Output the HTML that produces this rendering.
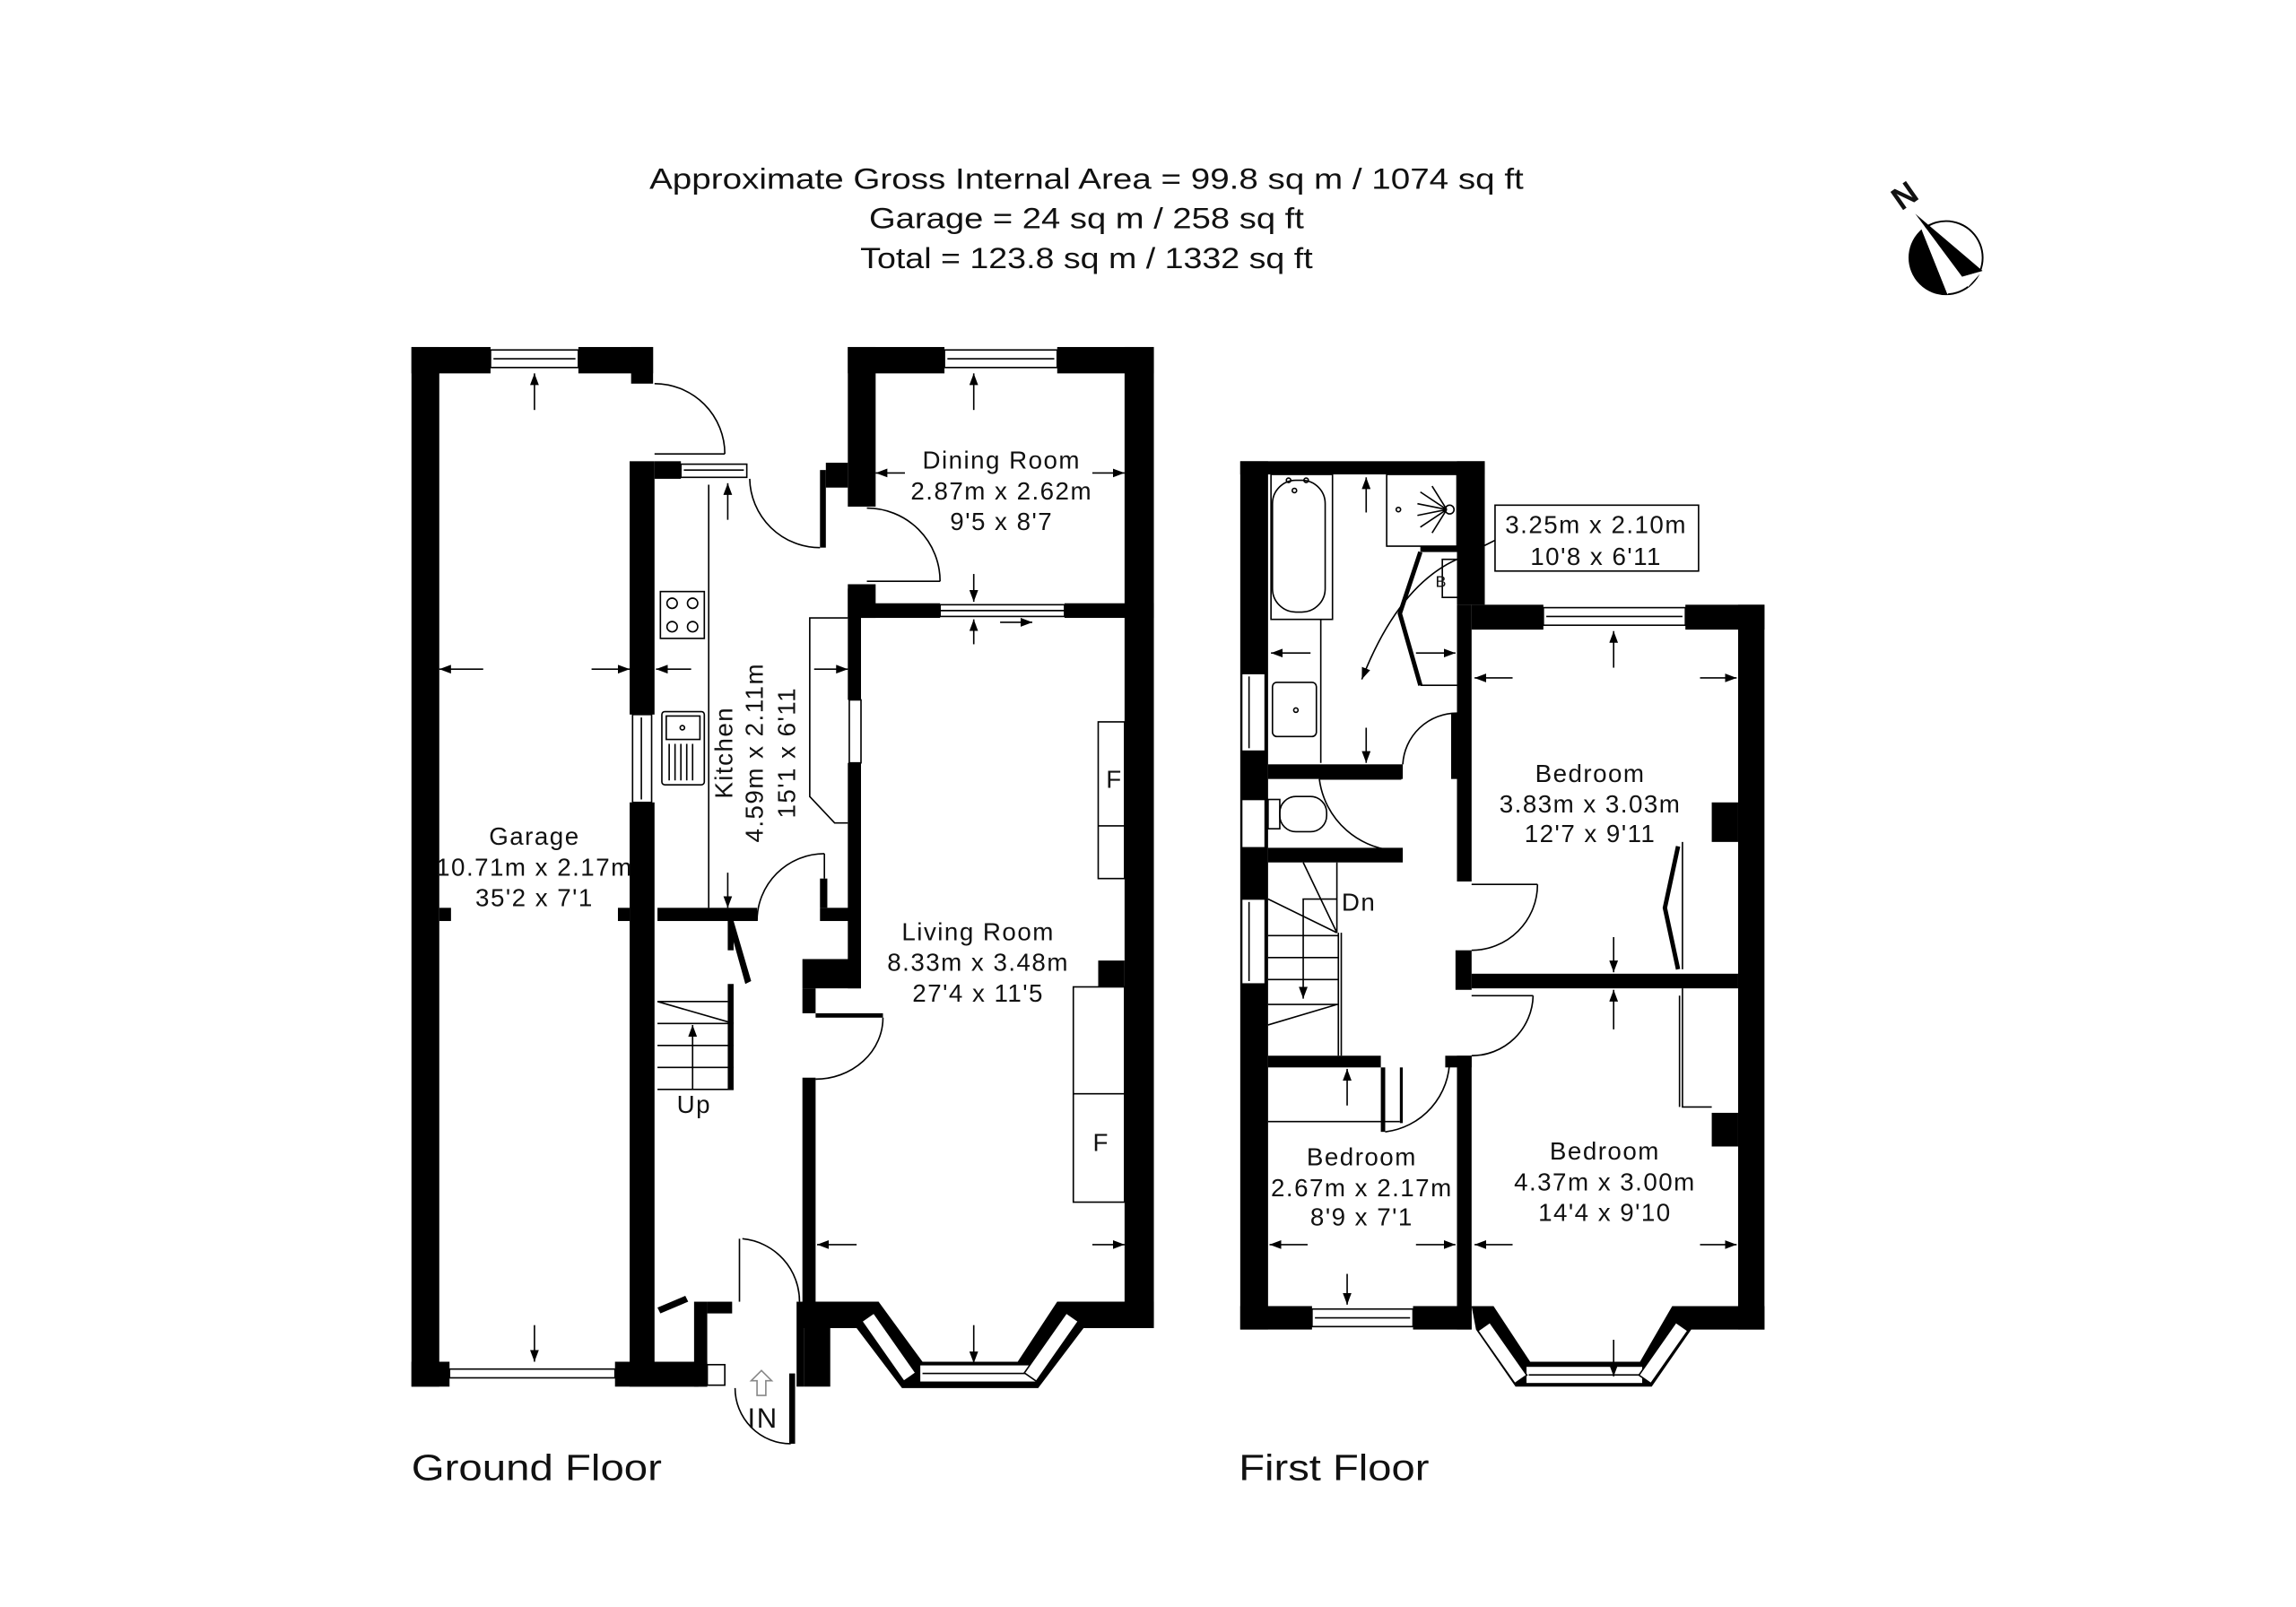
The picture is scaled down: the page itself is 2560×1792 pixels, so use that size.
<!DOCTYPE html>
<html><head><meta charset="utf-8"><style>
html,body{margin:0;padding:0;background:#fff}
svg{display:block}
text{font-family:"Liberation Sans",sans-serif;fill:#111}
</style></head><body>
<svg width="2560" height="1792" viewBox="0 0 1568 1097.5" preserveAspectRatio="none" xmlns="http://www.w3.org/2000/svg">
<defs>
<marker id="a" markerWidth="8" markerHeight="6" refX="8" refY="3" orient="auto" markerUnits="userSpaceOnUse">
<path d="M0,0 L8,3 L0,6 z" fill="#000"/></marker>
<clipPath id="cc"><circle cx="1329" cy="176" r="25"/></clipPath>
</defs>
<rect width="1568" height="1097.5" fill="#fff"/>

<!-- header -->
<g font-size="20" text-anchor="middle">
<text x="742" y="129" textLength="597" lengthAdjust="spacingAndGlyphs">Approximate Gross Internal Area = 99.8 sq m / 1074 sq ft</text>
<text x="742" y="156" textLength="297" lengthAdjust="spacingAndGlyphs">Garage = 24 sq m / 258 sq ft</text>
<text x="742" y="183" textLength="309" lengthAdjust="spacingAndGlyphs">Total = 123.8 sq m / 1332 sq ft</text>
</g>
<!-- compass -->
<circle cx="1329" cy="176" r="25" fill="#fff" stroke="#000" stroke-width="1.2"/>
<path d="M1308,146 L1330,201 L1290,215 L1290,150 z" fill="#000" clip-path="url(#cc)"/>
<path d="M1308,146 L1330,201 L1340,189 z" fill="#fff"/>
<path d="M1308,146 L1340,189 L1354,185 z" fill="#000"/>
<path d="M1340,189 L1354,185 L1344,196 z" fill="#fff"/>
<text x="1301" y="141" font-size="22" font-weight="bold" text-anchor="middle" transform="rotate(-35 1301 134)">N</text>

<g fill="#000">
<!-- ===== GROUND FLOOR ===== -->
<rect x="281" y="237" width="19" height="710"/>
<rect x="281" y="237" width="54" height="18"/>
<rect x="395" y="237" width="51" height="18"/>
<rect x="431" y="237" width="15" height="25"/>
<rect x="281" y="930" width="26" height="17"/>
<rect x="420" y="930" width="63" height="17"/>
<rect x="300" y="620" width="8" height="9"/>
<rect x="422" y="620" width="8" height="9"/>
<rect x="430" y="315" width="17" height="173"/>
<rect x="430" y="548" width="17" height="399"/>
<rect x="447" y="315" width="18" height="12"/>
<!-- dining -->
<rect x="579" y="237" width="66" height="18"/>
<rect x="722" y="237" width="66" height="18"/>
<rect x="579" y="237" width="19" height="109"/>
<rect x="564" y="316" width="15" height="17"/>
<rect x="560" y="321" width="4" height="53"/>
<rect x="768" y="237" width="20" height="668"/>
<rect x="750" y="656" width="18" height="18"/>
<rect x="579" y="399" width="19" height="23"/>
<rect x="588" y="412" width="54" height="10"/>
<rect x="727" y="412" width="61" height="10"/>
<!-- kitchen / living wall -->
<rect x="579" y="402" width="9" height="76"/>
<rect x="579" y="521" width="9" height="154"/>
<rect x="449" y="620" width="68" height="9"/>
<rect x="560" y="600" width="5" height="20"/>
<rect x="560" y="620" width="28" height="9"/>
<rect x="548" y="655" width="40" height="20"/>
<rect x="548" y="675" width="9" height="17"/>
<rect x="557" y="692" width="46" height="3"/>
<rect x="548" y="736" width="9" height="171"/>
<!-- stair wall -->
<rect x="497" y="629" width="4" height="20"/>
<path d="M497,629 L501,629 L513,670 L509,672 z"/>
<rect x="497" y="672" width="4" height="72"/>
<!-- bay -->
<path d="M548,889 L600,889 L630,930 L695,930 L722,889 L788,889 L788,907 L740,907 L709,948 L616,948 L585,907 L548,907 z"/>
<!-- porch -->
<rect x="474" y="889" width="9" height="58"/>
<rect x="447" y="930" width="30" height="17"/>
<rect x="483" y="889" width="17" height="8"/>
<rect x="544" y="889" width="5" height="58"/>
<rect x="549" y="907" width="18" height="40"/>
<rect x="539" y="938" width="4" height="48"/>
<path d="M449,893 L468,885 L470,889 L451,897 z"/>

<!-- ===== FIRST FLOOR ===== -->
<rect x="847" y="315" width="19" height="593"/>
<rect x="847" y="315" width="167" height="9"/>
<rect x="995" y="315" width="19" height="98"/>
<rect x="995" y="413" width="10" height="189"/>
<rect x="994" y="649" width="11" height="27"/>
<rect x="995" y="721" width="10" height="187"/>
<rect x="1005" y="413" width="49" height="17"/>
<rect x="1151" y="413" width="54" height="17"/>
<rect x="1187" y="413" width="18" height="495"/>
<rect x="1169" y="548" width="18" height="27"/>
<rect x="1169" y="760" width="18" height="23"/>
<rect x="1005" y="665" width="182" height="10"/>
<rect x="866" y="522" width="92" height="10"/>
<rect x="866" y="579" width="92" height="10"/>
<rect x="991" y="487" width="4" height="45"/>
<rect x="866" y="721" width="77" height="8"/>
<rect x="987" y="721" width="18" height="8"/>
<rect x="943" y="729" width="3" height="44"/>
<rect x="956" y="729" width="2" height="38"/>
<rect x="847" y="892" width="49" height="16"/>
<rect x="965" y="892" width="40" height="16"/>
<path d="M1005,892 L1020,892 L1045,930 L1120,930 L1142,892 L1205,892 L1205,908 L1155,908 L1128,947 L1035,947 L1008,908 z"/>
<rect x="970" y="373" width="25" height="4"/>
<path d="M970,377 L956,419 L970,468" fill="none" stroke="#000" stroke-width="3"/>
<path d="M1146,578 L1137,620 L1146,662" fill="none" stroke="#000" stroke-width="3"/>
</g>

<!-- windows -->
<g fill="#fff" stroke="#000" stroke-width="1">
<rect x="335" y="239" width="60" height="12"/><line x1="337" y1="245" x2="393" y2="245"/>
<rect x="645" y="239" width="77" height="12"/><line x1="647" y1="245" x2="720" y2="245"/>
<rect x="465" y="317" width="45" height="9"/><line x1="467" y1="321" x2="508" y2="321"/>
<rect x="432" y="488" width="13" height="60"/><line x1="438" y1="490" x2="438" y2="546"/>
<rect x="580" y="478" width="8" height="43"/>
<rect x="642" y="413" width="85" height="8"/><line x1="642" y1="417" x2="727" y2="417"/>
<rect x="628" y="932" width="80" height="12"/><line x1="630" y1="938" x2="706" y2="938"/>
<rect x="-25" y="-5" width="50" height="10" transform="translate(607,920) rotate(55)"/>
<rect x="-25" y="-5" width="50" height="10" transform="translate(718,920) rotate(-55)"/>
<rect x="307" y="935" width="113" height="6"/>
<rect x="483" y="932" width="12" height="14"/>
<rect x="848" y="460" width="16" height="53"/><line x1="853" y1="462" x2="853" y2="511"/>
<rect x="848" y="546" width="16" height="33"/>
<rect x="848" y="614" width="16" height="58"/><line x1="853" y1="616" x2="853" y2="670"/>
<rect x="896" y="894" width="69" height="12"/><line x1="898" y1="900" x2="963" y2="900"/>
<rect x="1054" y="415" width="97" height="12"/><line x1="1056" y1="421" x2="1149" y2="421"/>
<rect x="1042" y="933" width="80" height="12"/><line x1="1044" y1="939" x2="1120" y2="939"/>
<rect x="-22" y="-5" width="44" height="10" transform="translate(1026,924) rotate(55)"/>
<rect x="-22" y="-5" width="44" height="10" transform="translate(1136,924) rotate(-55)"/>
</g>

<!-- thin lines / fixtures / doors -->
<g fill="none" stroke="#000" stroke-width="1">
<path d="M447,262 A48,48 0 0 1 495,310"/><line x1="447" y1="310" x2="495" y2="310"/>
<path d="M512,327 A48,48 0 0 0 560,374"/>
<path d="M592,347 A50,50 0 0 1 642,397"/><line x1="592" y1="397" x2="642" y2="397"/>
<path d="M517,629 A46,46 0 0 1 563,583"/><line x1="563" y1="583" x2="563" y2="600"/>
<path d="M603,695 A46,42 0 0 1 557,737"/>
<path d="M507,846 A43,43 0 0 1 546,889"/><line x1="505" y1="846" x2="505" y2="889"/>
<path d="M502,948 A38,38 0 0 0 540,986"/>
<line x1="484" y1="331" x2="484" y2="620"/>
<rect x="451" y="404" width="30" height="32"/>
<circle cx="459" cy="412" r="3.5"/><circle cx="473" cy="412" r="3.5"/><circle cx="459" cy="428" r="3.5"/><circle cx="473" cy="428" r="3.5"/>
<rect x="452" y="486" width="29" height="50" rx="2"/><rect x="455" y="489" width="23" height="16"/><circle cx="466" cy="497" r="1.5"/>
<path d="M457,508 v25 M461,508 v25 M465,508 v25 M469,508 v25 M473,508 v25"/>
<path d="M579,422 L553,422 L553,544 L570,562 L579,562"/>
<path d="M449,684 L501,699 M449,699 H501 M449,714 H501 M449,729 H501 M449,744 H501 M449,684 H497"/>
<rect x="750" y="493" width="18" height="107"/><line x1="750" y1="564" x2="768" y2="564"/>
<rect x="733" y="674" width="35" height="147"/><line x1="733" y1="747" x2="768" y2="747"/>
<path d="M520,936 l-7,7 h4 v10 h6 v-10 h4 z" stroke="#888"/>
<!-- first floor -->
<rect x="868" y="324" width="42" height="99"/><rect x="869" y="328" width="36" height="90" rx="16"/>
<circle cx="880" cy="328" r="1.5"/><circle cx="892" cy="328" r="1.5"/><circle cx="884" cy="335" r="1.5"/>
<line x1="902" y1="423" x2="902" y2="521"/>
<rect x="869" y="466" width="30" height="37" rx="3"/><circle cx="885" cy="485" r="1.5"/>
<rect x="947" y="324" width="48" height="49"/>
<path d="M988,348 l-18,-12 M988,348 l-20,-4 M988,348 l-20,4 M988,348 l-18,12 M988,348 l-10,16 M988,348 l-10,-16"/>
<circle cx="990" cy="348" r="3"/><circle cx="955" cy="348" r="1.5"/>
<rect x="985" y="382" width="18" height="26"/>
<line x1="970" y1="468" x2="995" y2="468"/>
<rect x="1021" y="345" width="139" height="45"/>
<line x1="1021" y1="369" x2="995" y2="382"/>
<path d="M995,382 Q955,400 930,464" marker-end="url(#a)"/>
<path d="M958,522 A37,37 0 0 1 995,487"/>
<rect x="866" y="546" width="8" height="20"/><rect x="874" y="544" width="32" height="24" rx="11"/>
<line x1="901" y1="532" x2="957" y2="532"/><path d="M901,532 A56,56 0 0 0 957,581"/>
<path d="M866,639 H914 M866,654 H914 M866,669 H914 M866,686 H914 M890,589 L913,637 M866,614 L913,637 M913,686 L866,700 M914,637 V721 M916,637 V721 M913,589 V637"/>
<path d="M913,614 H890 V682" marker-end="url(#a)"/>
<line x1="866" y1="766" x2="956" y2="766"/>
<path d="M946,773 A50,50 0 0 0 990,723"/>
<line x1="1005" y1="604" x2="1050" y2="604"/><path d="M1050,604 A45,45 0 0 1 1005,649"/>
<line x1="1005" y1="680" x2="1047" y2="680"/><path d="M1047,680 A42,42 0 0 1 1005,721"/>
<path d="M1149,575 V662 M1149,675 V756 H1169 M1147,680 V756"/>
</g>

<!-- dimension arrows -->
<g stroke="#000" stroke-width="1" marker-end="url(#a)">
<line x1="330" y1="457" x2="300" y2="457"/><line x1="404" y1="457" x2="430" y2="457"/>
<line x1="365" y1="280" x2="365" y2="255"/><line x1="365" y1="905" x2="365" y2="930"/>
<line x1="497" y1="355" x2="497" y2="330"/><line x1="497" y1="596" x2="497" y2="620"/>
<line x1="472" y1="457" x2="448" y2="457"/><line x1="556" y1="457" x2="579" y2="457"/>
<line x1="618" y1="323" x2="598" y2="323"/><line x1="746" y1="323" x2="768" y2="323"/>
<line x1="665" y1="280" x2="665" y2="255"/><line x1="665" y1="392" x2="665" y2="411"/>
<line x1="665" y1="440" x2="665" y2="423"/><line x1="683" y1="425" x2="705" y2="425"/>
<line x1="585" y1="850" x2="558" y2="850"/><line x1="746" y1="850" x2="768" y2="850"/>
<line x1="665" y1="905" x2="665" y2="931"/>
<line x1="473" y1="744" x2="473" y2="700"/>
<line x1="933" y1="350" x2="933" y2="326"/><line x1="933" y1="497" x2="933" y2="521"/>
<line x1="895" y1="446" x2="868" y2="446"/><line x1="967" y1="446" x2="994" y2="446"/>
<line x1="1033" y1="463" x2="1007" y2="463"/><line x1="1161" y1="463" x2="1186" y2="463"/>
<line x1="1102" y1="456" x2="1102" y2="431"/><line x1="1102" y1="640" x2="1102" y2="664"/>
<line x1="1102" y1="703" x2="1102" y2="676"/><line x1="1102" y1="915" x2="1102" y2="940"/>
<line x1="1033" y1="850" x2="1007" y2="850"/><line x1="1161" y1="850" x2="1186" y2="850"/>
<line x1="893" y1="850" x2="867" y2="850"/><line x1="967" y1="850" x2="994" y2="850"/>
<line x1="920" y1="870" x2="920" y2="891"/><line x1="920" y1="755" x2="920" y2="730"/>
</g>

<!-- labels -->
<g font-size="17" letter-spacing="0.9" text-anchor="middle">
<text x="365" y="577">Garage</text><text x="365" y="598">10.71m x 2.17m</text><text x="365" y="619">35'2 x 7'1</text>
<text x="684" y="320">Dining Room</text><text x="684" y="341">2.87m x 2.62m</text><text x="684" y="362">9'5 x 8'7</text>
<text x="668" y="642">Living Room</text><text x="668" y="663">8.33m x 3.48m</text><text x="668" y="684">27'4 x 11'5</text>
<g transform="translate(500,514) rotate(-90)"><text x="0" y="0">Kitchen</text></g>
<g transform="translate(521,514) rotate(-90)"><text x="0" y="0">4.59m x 2.11m</text></g>
<g transform="translate(543,514) rotate(-90)"><text x="0" y="0">15'1 x 6'11</text></g>
<text x="474" y="760">Up</text>
<text x="761" y="538">F</text><text x="752" y="786">F</text>
<text x="1090" y="364">3.25m x 2.10m</text><text x="1090" y="386">10'8 x 6'11</text>
<text x="1086" y="534">Bedroom</text><text x="1086" y="555">3.83m x 3.03m</text><text x="1086" y="575">12'7 x 9'11</text>
<text x="1096" y="792">Bedroom</text><text x="1096" y="813">4.37m x 3.00m</text><text x="1096" y="834">14'4 x 9'10</text>
<text x="930" y="796">Bedroom</text><text x="930" y="817">2.67m x 2.17m</text><text x="930" y="837">8'9 x 7'1</text>
<text x="928" y="622">Dn</text>
<text x="984" y="401" font-size="11" letter-spacing="0">B</text>
</g>
<text x="521" y="975" font-size="19" letter-spacing="1" text-anchor="middle">IN</text>
<text x="281" y="1011" font-size="25" textLength="171" lengthAdjust="spacingAndGlyphs">Ground Floor</text>
<text x="846" y="1011" font-size="25" textLength="130" lengthAdjust="spacingAndGlyphs">First Floor</text>
</svg>
</body></html>
